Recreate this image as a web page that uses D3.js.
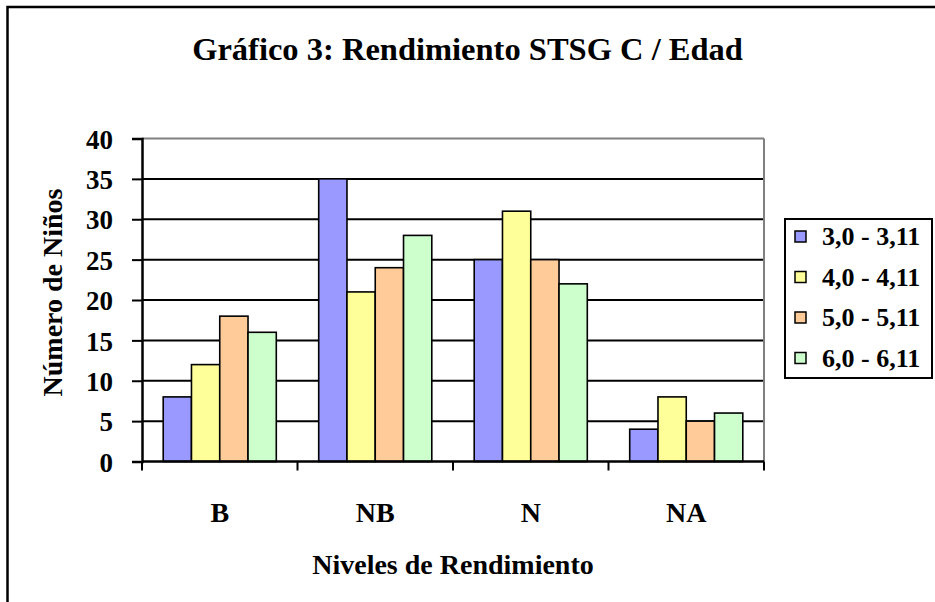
<!DOCTYPE html>
<html>
<head>
<meta charset="utf-8">
<script src="https://cdn.jsdelivr.net/npm/d3@7"></script>
<style>
  html, body { margin: 0; padding: 0; background: #fff; }
  svg { display: block; }
  text { font-family: "Liberation Serif", "Times New Roman", serif; font-weight: bold; fill: #000; }
</style>
</head>
<body>
<svg id="chart" width="935" height="602"></svg>
<script>
const categories = ["B", "NB", "N", "NA"];
const seriesNames = ["3,0 - 3,11", "4,0 - 4,11", "5,0 - 5,11", "6,0 - 6,11"];
const s1 = [8, 35, 25, 4];
const s2 = [12, 21, 31, 8];
const s3 = [18, 24, 25, 5];
const s4 = [16, 28, 22, 6];
const seriesValues = [s1, s2, s3, s4];
const colors = ["#9999FF", "#FFFF99", "#FFCC99", "#CCFFCC"];
const yTicks = [0, 5, 10, 15, 20, 25, 30, 35, 40];
const titleText = "Gráfico 3: Rendimiento STSG C / Edad";
const xTitle = "Niveles de Rendimiento";
const yTitle = "Número de Niños";

const svg = d3.select("#chart");

// outer frame (cut off at right/bottom)
svg.append("rect").attr("x", 7.5).attr("y", 7).attr("width", 960).attr("height", 640)
  .attr("fill", "none").attr("stroke", "#000").attr("stroke-width", 2.5);

const L = 142, R = 764, T = 138.5, B = 461.5;

const x = d3.scaleBand().domain(categories).range([L, R]).paddingInner(0).paddingOuter(0);
const xs = d3.scaleBand().domain(seriesNames).range([0, x.bandwidth()]).paddingInner(0).paddingOuter(0.75);
const y = d3.scaleLinear().domain([0, 40]).range([B, T]);

// gridlines
svg.append("g").selectAll("line").data(yTicks.filter(d => d > 0)).join("line")
  .attr("x1", L).attr("x2", R)
  .attr("y1", d => y(d)).attr("y2", d => y(d))
  .attr("stroke", d => d === 40 ? "#808080" : "#000")
  .attr("stroke-width", 2);
// right border
svg.append("line").attr("x1", R).attr("x2", R).attr("y1", T).attr("y2", B)
  .attr("stroke", "#808080").attr("stroke-width", 2);

// bars
const data = [];
categories.forEach((c, ci) => seriesNames.forEach((s, si) => data.push({c, s, si, v: seriesValues[si][ci]})));
svg.append("g").selectAll("rect").data(data).join("rect")
  .attr("x", d => x(d.c) + xs(d.s))
  .attr("width", xs.bandwidth())
  .attr("y", d => y(d.v))
  .attr("height", d => y(0) - y(d.v))
  .attr("fill", d => colors[d.si])
  .attr("stroke", "#000").attr("stroke-width", 1.6);

// y axis
const yAxis = svg.append("g").attr("transform", `translate(${L},0)`)
  .call(d3.axisLeft(y).tickValues(yTicks).tickSize(10).tickPadding(19).tickFormat(d3.format("d")));
yAxis.select(".domain").attr("stroke", "#000").attr("stroke-width", 2.5);
yAxis.selectAll(".tick line").attr("stroke", "#000").attr("stroke-width", 2);
yAxis.selectAll(".tick text").attr("font-size", 27).attr("font-family", "Liberation Serif").attr("font-weight", "bold").attr("dy", "0.36em");

// x axis
const xAxis = svg.append("g").attr("transform", `translate(0,${B})`)
  .call(d3.axisBottom(x).tickSize(0).tickFormat(""));
xAxis.select(".domain").remove();
svg.append("line").attr("x1", L).attr("x2", R).attr("y1", B).attr("y2", B)
  .attr("stroke", "#000").attr("stroke-width", 2.5);
const bounds = categories.map(c => x(c)).concat([R]);
svg.append("g").selectAll("line").data(bounds).join("line")
  .attr("x1", d => d).attr("x2", d => d).attr("y1", B).attr("y2", B + 9)
  .attr("stroke", "#000").attr("stroke-width", 2);
svg.append("g").selectAll("text").data(categories).join("text")
  .attr("x", d => x(d) + x.bandwidth() / 2).attr("y", 522)
  .attr("text-anchor", "middle").attr("font-size", 28).text(d => d);

// titles
svg.append("text").attr("x", 467.5).attr("y", 60).attr("text-anchor", "middle")
  .attr("font-size", 32.5).text(titleText);
svg.append("text").attr("x", (L + R) / 2).attr("y", 574).attr("text-anchor", "middle")
  .attr("font-size", 28).text(xTitle);
svg.append("text").attr("transform", "translate(62,292.5) rotate(-90)").attr("text-anchor", "middle")
  .attr("font-size", 28).text(yTitle);

// legend
const lg = svg.append("g");
lg.append("rect").attr("x", 785).attr("y", 219).attr("width", 147).attr("height", 159)
  .attr("fill", "#fff").attr("stroke", "#000").attr("stroke-width", 2);
const items = lg.selectAll("g.item").data(seriesNames).join("g").attr("class", "item")
  .attr("transform", (d, i) => `translate(0,${i * 40.5})`);
items.append("rect").attr("x", 795).attr("y", 231).attr("width", 11).attr("height", 11)
  .attr("fill", (d, i) => colors[i]).attr("stroke", "#000").attr("stroke-width", 1.5);
items.append("text").attr("x", 822).attr("y", 245).attr("font-size", 26).text(d => d);
</script>
</body>
</html>
